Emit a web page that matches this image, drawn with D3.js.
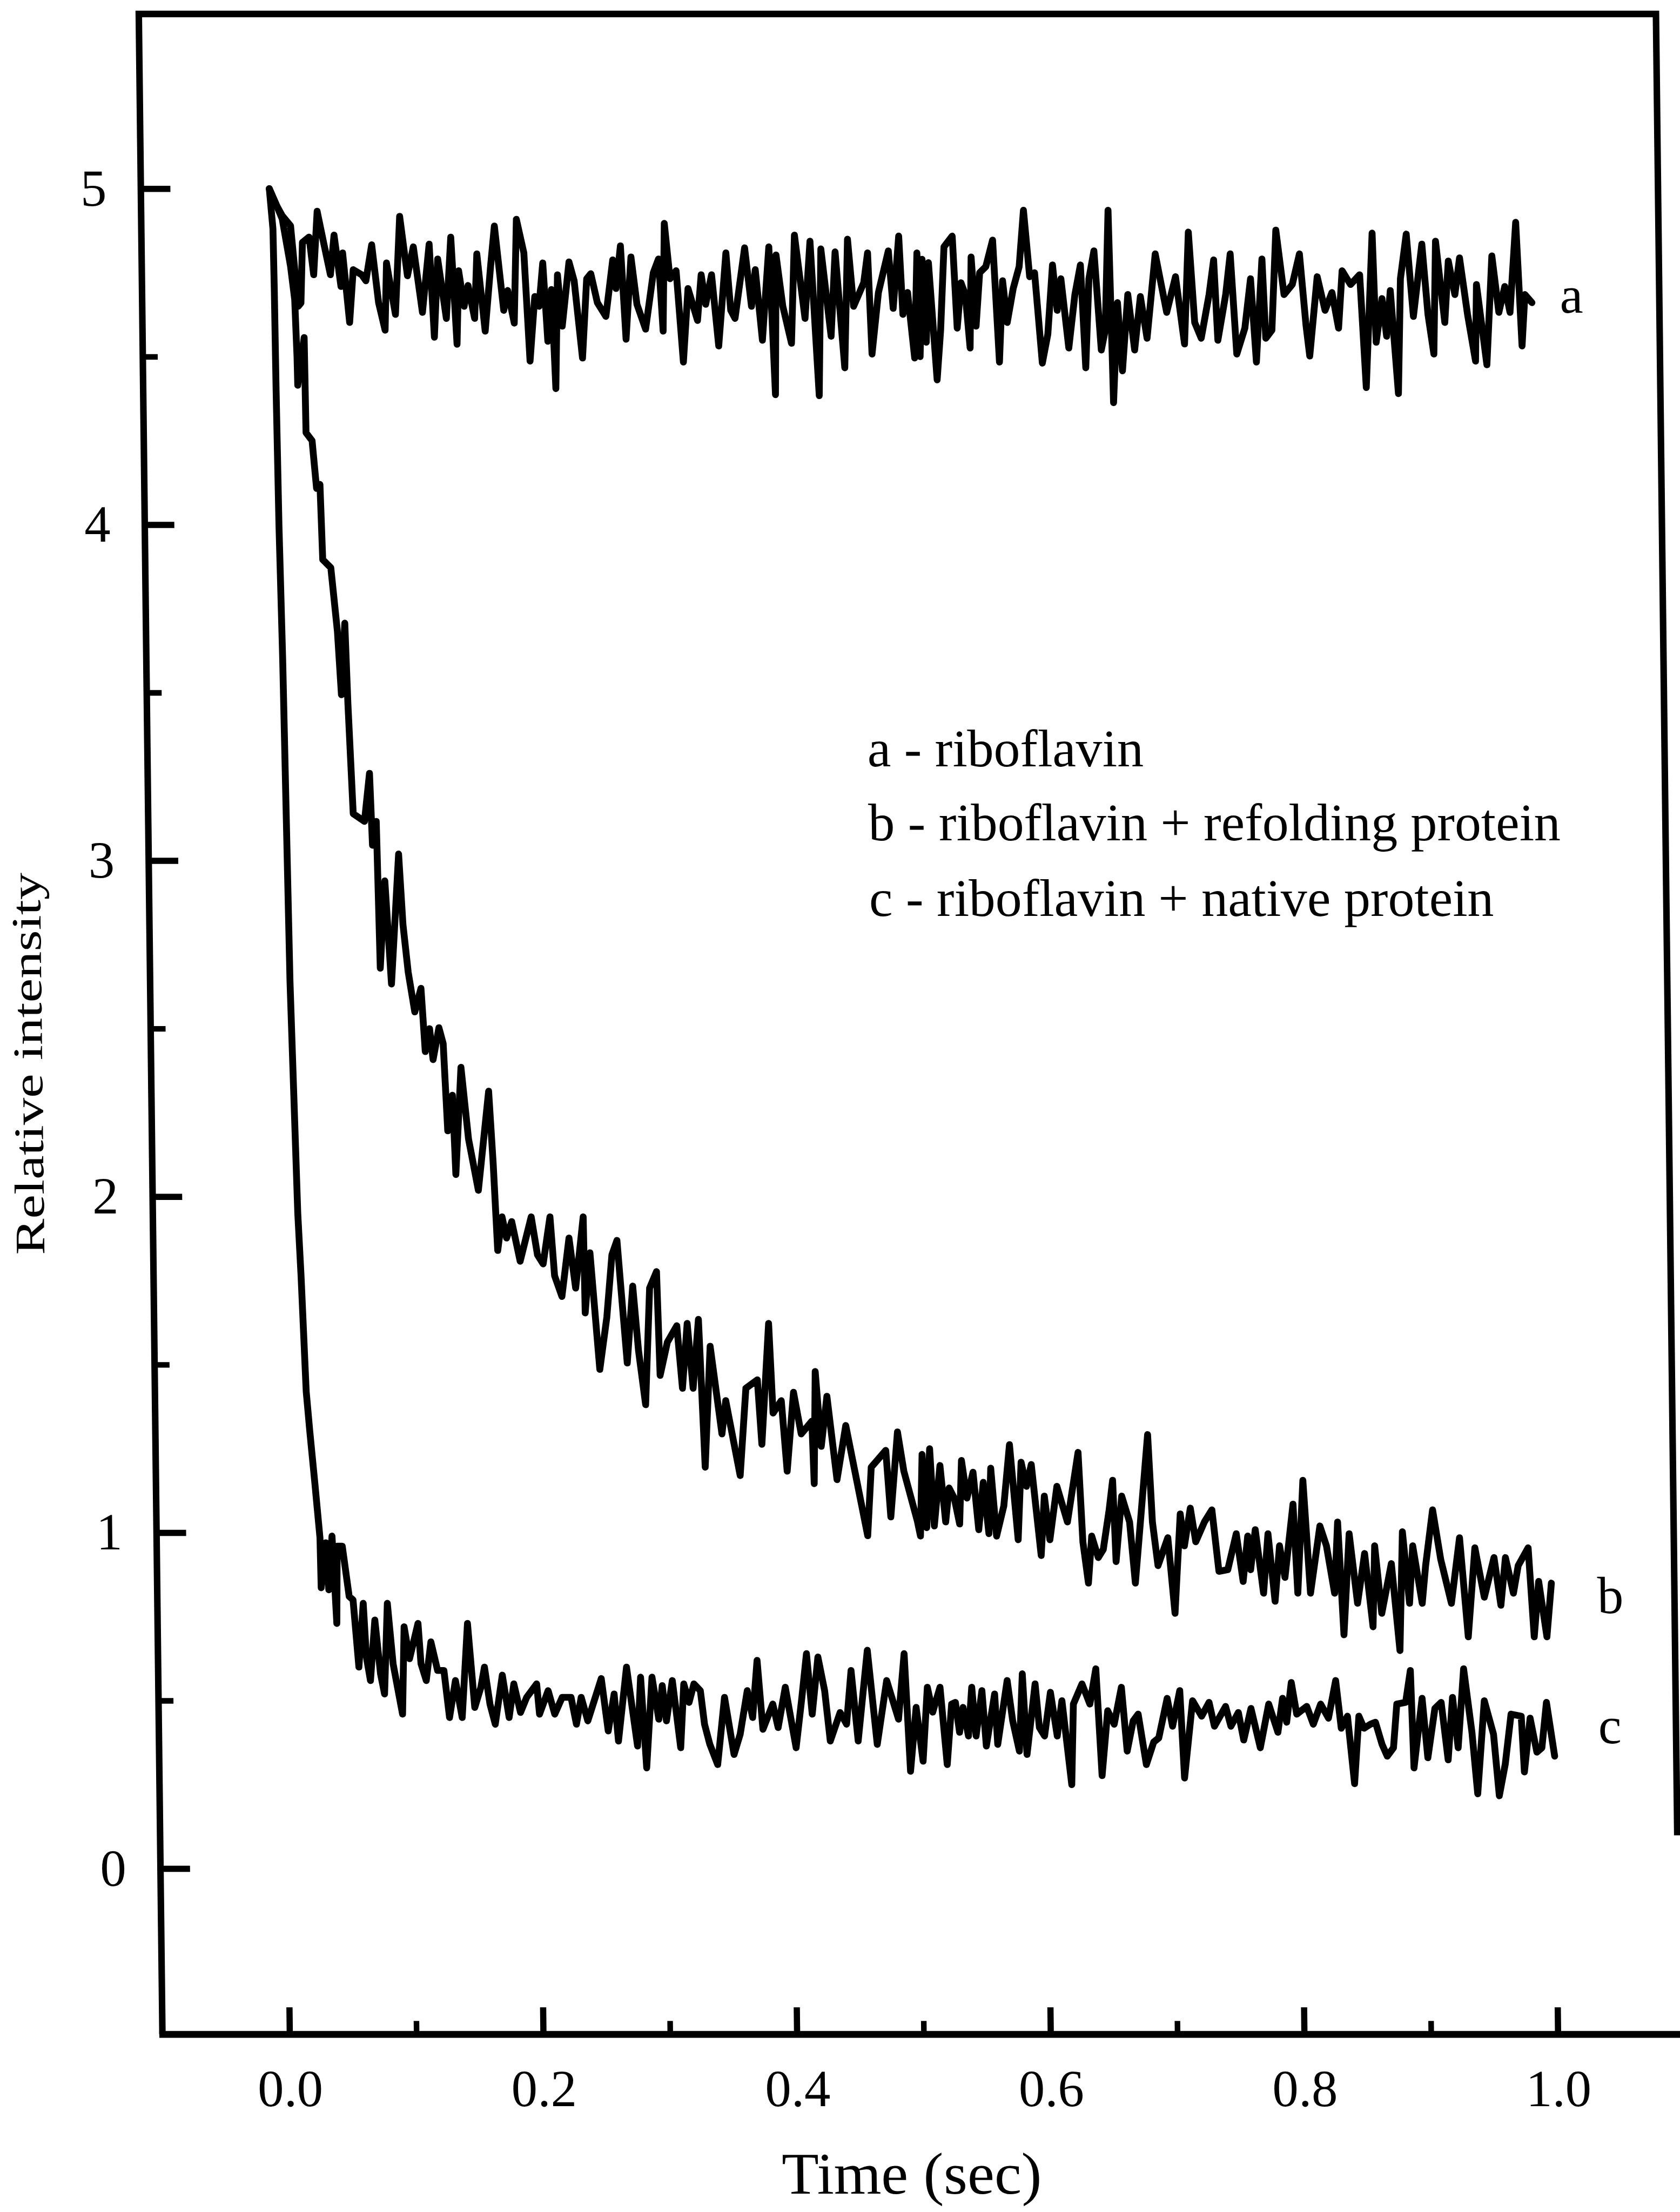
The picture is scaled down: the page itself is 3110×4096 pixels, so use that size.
<!DOCTYPE html>
<html>
<head>
<meta charset="utf-8">
<script src="https://cdn.jsdelivr.net/npm/d3@7"></script>
<style>
  html, body { margin: 0; padding: 0; background: #fff; }
  svg { display: block; }
  text { font-family: "Liberation Serif", "Times New Roman", serif; fill: #000; }
</style>
</head>
<body>
<svg id="chart" width="3110" height="4096"></svg>
<script>
// ---------------- DATA (time in s, relative intensity) ----------------
const xTickValues = [0.0, 0.2, 0.4, 0.6, 0.8, 1.0];
const xMinorTicks = [0.1, 0.3, 0.5, 0.7, 0.9];
const yTickValues = [0, 1, 2, 3, 4, 5];
const yMinorTicks = [0.5, 1.5, 2.5, 3.5, 4.5];
const xTitle = "Time (sec)";
const yTitle = "Relative intensity";
const legendLines = [
  "a - riboflavin",
  "b - riboflavin + refolding protein",
  "c - riboflavin + native protein"
];
const seriesNames = ["a", "b", "c"];

// curve a : riboflavin
const seriesA = [
[0.001,5.00],[0.0066,4.95],[0.0109,4.92],[0.0174,4.89],[0.0212,4.72],[0.0227,4.65],[0.0249,4.66],[0.0266,4.84],
[0.0319,4.856],[0.0352,4.744],[0.0385,4.933],[0.0434,4.838],[0.0484,4.744],[0.0516,4.862],[0.0566,4.709],[0.0582,4.809],
[0.0631,4.602],[0.0664,4.759],[0.073,4.744],[0.0763,4.726],[0.0812,4.833],[0.0861,4.661],[0.091,4.579],[0.0927,4.779],
[0.0993,4.626],[0.1035,4.918],[0.1091,4.741],[0.114,4.827],[0.1206,4.632],[0.1265,4.835],[0.1298,4.558],[0.1331,4.791],
[0.1394,4.614],[0.1436,4.856],[0.1476,4.537],[0.1495,4.756],[0.1535,4.65],
[0.1568,4.712],[0.1617,4.614],[0.1640,4.806],[0.1699,4.576],[0.1748,4.771],[0.1781,4.889],[0.1847,4.638],[0.1880,4.697],
[0.1929,4.60],[0.1955,4.909],[0.2011,4.809],[0.2050,4.487],[0.2093,4.679],[0.2126,4.650],[0.2159,4.779],[0.2192,4.546],
[0.2225,4.70],[0.2251,4.405],[0.2274,4.744],[0.2307,4.591],[0.2366,4.782],[0.2405,4.726],[0.2464,4.496],[0.2504,4.732],
[0.2537,4.747],[0.2586,4.661],[0.2652,4.620],[0.2711,4.788],[0.2734,4.703],[0.2773,4.83],[0.2809,4.552],[0.2855,4.797],
[0.2898,4.656],[0.2964,4.582],[0.3030,4.75],[0.3072,4.791],[0.3102,4.576],[0.3121,4.897],[0.3161,4.732],[0.3210,4.756],
[0.3259,4.484],[0.3302,4.703],[0.3374,4.608],[0.3407,4.744],[0.3440,4.656],[0.3489,4.744],[0.3539,4.532],[0.3604,4.809],
[0.3637,4.638],[0.3670,4.614],[0.3752,4.824],[0.3801,4.65],[0.3834,4.759],[0.3884,4.549],[0.3943,4.827],[0.3982,4.387],
[0.3999,4.803],[0.4048,4.65],[0.4113,4.54],[0.4146,4.862],[0.4222,4.614],[0.4268,4.844],[0.4327,4.384],[0.4353,4.821],
[0.4426,4.561],[0.4465,4.812],[0.4531,4.467],[0.4564,4.85],[0.4606,4.65],[0.4688,4.72],[0.4721,4.809],[0.4747,4.508],
[0.4803,4.691],[0.4885,4.815],[0.4918,4.644],[0.4968,4.859],[0.4994,4.626],[0.5033,4.691],[0.5083,4.496],
[0.511,4.809],[0.5126,4.50],[0.515,4.79],[0.5176,4.543],[0.520,4.78],[0.5258,4.431],[0.529,4.579],[0.5324,4.827],
[0.539,4.859],[0.5421,4.585],[0.5455,4.72],[0.5488,4.685],[0.5521,4.526],[0.5537,4.797],[0.557,4.591],[0.5603,4.75],
[0.5652,4.768],[0.5708,4.847],[0.5751,4.484],[0.5783,4.726],[0.5816,4.602],[0.5866,4.703],[0.5915,4.768],[0.5954,4.936],
[0.5997,4.738],[0.6036,4.75],[0.6089,4.481],[0.6135,4.567],[0.6178,4.773],[0.6211,4.638],[0.6243,4.732],[0.6299,4.526],
[0.6352,4.685],[0.6398,4.773],[0.6431,4.467],[0.6464,4.732],[0.6506,4.815],[0.6555,4.52],[0.6588,4.579],[0.6621,4.936],
[0.6647,4.363],[0.6687,4.661],[0.6720,4.458],[0.6769,4.685],[0.6818,4.52],[0.6868,4.679],[0.6917,4.555],[0.6989,4.806],
[0.7074,4.632],[0.7147,4.738],[0.7212,4.538],[0.7252,4.871],[0.7294,4.602],[0.7344,4.555],[0.741,4.685],[0.7449,4.788],
[0.7475,4.549],[0.7541,4.685],[0.758,4.806],[0.7623,4.508],[0.7689,4.585],[0.7738,4.732],[0.7777,4.484],[0.783,4.791],
[0.7853,4.555],[0.7902,4.579],[0.7942,4.877],[0.8001,4.685],[0.8067,4.715],[0.8126,4.806],[0.8172,4.591],[0.8198,4.502],
[0.8264,4.738],[0.8323,4.638],[0.8379,4.691],[0.8428,4.585],[0.8461,4.756],[0.8526,4.715],[0.8599,4.744],[0.8641,4.408],
[0.8701,4.868],[0.8723,4.543],[0.8773,4.673],[0.8806,4.561],[0.8839,4.697],[0.8894,4.39],[0.892,4.732],[0.897,4.865],
[0.9019,4.62],[0.9092,4.835],[0.9134,4.626],[0.9177,4.508],[0.920,4.844],[0.9266,4.602],[0.9299,4.785],[0.9348,4.685],
[0.9388,4.794],[0.9446,4.626],[0.9505,4.487],[0.9519,4.715],[0.9594,4.476],[0.9643,4.80],[0.9693,4.632],[0.9742,4.709],
[0.9781,4.632],[0.9834,4.90],[0.9873,4.532],[0.990,4.685],[0.9955,4.661]
];

// curve b : riboflavin + refolding protein
const seriesB = [
[0.001,5.00],[0.0066,4.95],[0.0109,4.91],[0.017,4.77],[0.020,4.67],[0.0213,4.50],
[0.0216,4.415],[0.0271,4.557],[0.0277,4.274],[0.0324,4.25],[0.0355,4.108],[0.0382,4.12],[0.0397,3.896],[0.046,3.872],
[0.0506,3.683],[0.0532,3.494],[0.0565,3.707],[0.0582,3.47],[0.0614,3.14],[0.0702,3.117],[0.0746,3.26],[0.0763,3.046],
[0.0795,3.117],[0.0813,2.68],[0.0857,2.94],[0.090,2.633],[0.0968,3.02],[0.0996,2.81],[0.1033,2.668],[0.1081,2.55],
[0.1132,2.62],[0.116,2.432],[0.1196,2.50],[0.1221,2.408],[0.127,2.503],[0.1302,2.456],[0.133,2.196],[0.137,2.302],
[0.139,2.066],[0.144,2.385],[0.1493,2.172],[0.1566,2.019],[0.1656,2.314],[0.1685,2.101],
[0.1713,1.84],[0.175,1.94],[0.1784,1.877],[0.1826,1.926],[0.1889,1.808],[0.198,1.94],[0.2026,1.827],[0.2070,1.80],
[0.2128,1.94],[0.2159,1.765],[0.2215,1.703],[0.2276,1.877],[0.2324,1.728],[0.2390,1.94],[0.2397,1.654],[0.2440,1.833],
[0.2507,1.486],[0.2567,1.641],[0.2613,1.827],[0.2654,1.87],[0.2682,1.722],[0.2724,1.505],[0.2774,1.734],[0.2814,1.542],
[0.2865,1.381],[0.2907,1.728],[0.2963,1.777],[0.2982,1.468],[0.3042,1.567],[0.3118,1.616],[0.3157,1.43],[0.320,1.623],
[0.3241,1.43],[0.3289,1.635],[0.3329,1.195],[0.3379,1.555],[0.3464,1.294],[0.3497,1.393],[0.3604,1.17],[0.3657,1.43],
[0.3748,1.455],[0.3778,1.263],[0.3842,1.623],[0.3869,1.356],[0.3935,1.393],[0.3975,1.183],[0.4032,1.418],[0.4089,1.294],
[0.4174,1.332],[0.4187,1.146],[0.4205,1.48],[0.4246,1.257],[0.4295,1.406],[0.4367,1.158],[0.4441,1.319],[0.4604,0.991],
[0.4638,1.195],[0.4754,1.245],[0.4788,1.047],[0.4848,1.30],[0.4895,1.183],[0.4997,1.034],
[0.502,0.99],[0.504,1.233],[0.507,1.015],[0.510,1.25],[0.513,1.02],[0.518,1.20],[0.522,1.032],[0.525,1.133],[0.529,1.103],
[0.533,1.026],[0.535,1.215],[0.539,1.103],[0.544,1.18],[0.548,1.009],[0.552,1.15],[0.556,0.997],[0.558,1.192],[0.562,0.99],
[0.568,1.08],[0.573,1.262],[0.579,0.979],[0.582,1.21],[0.586,1.138],[0.590,1.203],[0.597,0.932],[0.600,1.109],[0.604,0.979],
[0.610,1.138],[0.618,1.032],[0.627,1.239],[0.630,0.973],[0.634,0.85],[0.637,0.99],[0.642,0.926],[0.646,0.95],[0.651,1.068],
[0.654,1.156],[0.656,0.914],[0.661,1.109],[0.667,1.032],[0.671,0.85],[0.677,1.091],[0.682,1.292],[0.685,1.032],[0.689,0.902],
[0.697,0.985],[0.702,0.76],[0.707,1.056],[0.710,0.961],[0.715,1.073],[0.719,0.973],[0.726,1.032],[0.732,1.068],[0.737,0.885],
[0.744,0.89],[0.751,0.997],[0.756,0.855],[0.760,0.99],[0.762,0.89],[0.766,1.009],[0.772,0.82],[0.776,0.997],[0.781,0.796],
[0.785,0.961],[0.789,0.867],[0.796,1.085],[0.799,0.82],[0.804,1.156],[0.809,0.82],[0.817,1.02],[0.822,0.961],[0.828,0.82],
[0.831,1.032],[0.835,0.696],[0.840,0.997],[0.846,0.79],[0.852,0.938],[0.858,0.72],[0.860,0.961],[0.865,0.76],[0.873,0.908],
[0.879,0.649],[0.882,1.003],[0.887,0.79],[0.890,0.961],[0.897,0.79],[0.900,0.902],[0.906,1.068],[0.912,0.92],[0.920,0.79],
[0.927,0.985],[0.933,0.69],[0.939,0.955],[0.946,0.808],[0.954,0.926],[0.959,0.784],[0.963,0.926],[0.969,0.82],[0.973,0.902],
[0.981,0.955],[0.985,0.69],[0.989,0.855],[0.995,0.69],[0.999,0.85]
];

// curve c : riboflavin + native protein
const seriesC = [
[0.001,5.00],[0.0035,4.88],[0.0040,4.70],[0.0045,4.40],[0.0055,4.0],[0.0072,3.6],[0.0100,2.64],[0.0140,1.95],[0.0160,1.765],
[0.0190,1.42],[0.0215,1.30],[0.0250,1.146],[0.0285,0.985],
[0.029,0.836],[0.033,0.97],[0.035,0.83],[0.038,0.99],[0.041,0.73],[0.042,0.96],[0.046,0.96],[0.051,0.81],[0.054,0.80],
[0.058,0.60],[0.062,0.79],[0.064,0.63],[0.067,0.56],[0.071,0.74],[0.075,0.58],[0.078,0.52],[0.081,0.79],[0.085,0.61],
[0.092,0.46],[0.094,0.72],[0.098,0.625],[0.105,0.73],[0.107,0.61],[0.111,0.56],[0.115,0.675],[0.120,0.59],[0.125,0.59],
[0.129,0.45],[0.134,0.56],[0.139,0.45],[0.144,0.73],[0.149,0.48],[0.154,0.54],[0.157,0.60],[0.161,0.49],[0.165,0.43],
[0.171,0.576],[0.176,0.45],[0.180,0.55],[0.185,0.465],[0.190,0.51],[0.198,0.55],[0.200,0.46],[0.207,0.53],[0.212,0.46],
[0.218,0.51],[0.225,0.51],[0.229,0.43],[0.233,0.51],[0.238,0.44],[0.249,0.566],[0.254,0.41],[0.259,0.52],[0.262,0.38],
[0.269,0.60],[0.277,0.365],[0.280,0.57],[0.284,0.30],[0.289,0.57],[0.294,0.445],[0.297,0.545],[0.300,0.44],[0.305,0.56],
[0.311,0.36],[0.314,0.55],[0.318,0.495],[0.322,0.55],[0.327,0.53],[0.330,0.43],[0.334,0.37],[0.340,0.31],[0.346,0.51],
[0.353,0.34],[0.358,0.40],[0.364,0.53],[0.368,0.45],[0.372,0.62],[0.376,0.415],[0.384,0.49],[0.388,0.42],[0.394,0.54],
[0.402,0.36],[0.407,0.51],[0.411,0.64],[0.415,0.46],[0.420,0.63],[0.425,0.53],[0.429,0.38],[0.437,0.465],[0.442,0.43],
[0.446,0.59],[0.451,0.38],[0.459,0.65],[0.466,0.37],[0.474,0.56],[0.483,0.445],[0.488,0.64],[0.492,0.29],[0.497,0.48],
[0.502,0.32],[0.506,0.54],[0.510,0.466],[0.516,0.54],[0.521,0.31],[0.525,0.49],[0.528,0.495],[0.531,0.406],[0.534,0.48],
[0.538,0.395],[0.541,0.54],[0.544,0.395],[0.549,0.53],[0.552,0.365],[0.559,0.52],[0.561,0.37],[0.569,0.56],[0.573,0.44],
[0.578,0.35],[0.581,0.58],[0.584,0.34],[0.591,0.55],[0.594,0.42],[0.598,0.395],[0.603,0.525],[0.608,0.395],[0.612,0.50],
[0.619,0.25],[0.621,0.49],[0.628,0.55],[0.634,0.49],[0.639,0.595],[0.643,0.277],[0.648,0.47],[0.653,0.43],[0.659,0.54],
[0.663,0.35],[0.668,0.44],[0.672,0.46],[0.678,0.31],[0.684,0.377],[0.688,0.389],[0.695,0.507],[0.699,0.424],[0.705,0.53],
[0.708,0.27],[0.715,0.50],[0.722,0.454],[0.728,0.495],[0.732,0.424],[0.741,0.483],[0.745,0.424],[0.751,0.465],[0.755,0.383],
[0.761,0.477],[0.768,0.36],[0.775,0.49],[0.782,0.406],[0.786,0.507],[0.789,0.436],[0.793,0.554],[0.797,0.46],[0.805,0.483],
[0.810,0.43],[0.816,0.49],[0.822,0.448],[0.828,0.56],[0.832,0.418],[0.837,0.454],[0.842,0.253],[0.846,0.454],[0.850,0.418],
[0.855,0.43],[0.859,0.436],[0.864,0.37],[0.868,0.335],[0.873,0.36],[0.876,0.49],[0.883,0.495],[0.887,0.59],[0.889,0.30],
[0.896,0.507],[0.900,0.33],[0.906,0.477],[0.911,0.495],[0.916,0.324],[0.920,0.51],[0.924,0.36],[0.929,0.595],[0.935,0.406],
[0.939,0.223],[0.945,0.50],[0.952,0.40],[0.956,0.217],[0.961,0.312],[0.966,0.46],[0.974,0.454],[0.976,0.288],[0.981,0.448],
[0.986,0.347],[0.990,0.36],[0.994,0.495],[1.000,0.335]
];

// ---------------- LAYOUT (reference pixel units, scaled to window) ----------------
const S = 0.576;
const L = { left: 522, right: 5398, top: 45, bottom: 6540 };
const SKEW_DEG = 0.67;     // the scanned figure leans slightly
const FS = 168;            // tick / legend font size (reference px)

const x = d3.scaleLinear().domain([-0.1003, 1.0952]).range([L.left, 5395]);
const y = d3.scaleLinear().domain([-0.493, 5.52]).range([L.bottom, L.top]);

const svg = d3.select("#chart");
svg.append("rect").attr("width", 3110).attr("height", 4096).attr("fill", "#fff");
const root = svg.append("g").attr("transform", `scale(${S})`);
const g = root.append("g")
  .attr("transform", `translate(0,${L.bottom}) skewX(${SKEW_DEG}) translate(0,${-L.bottom})`);

// frame: left, top, right (runs off the scanned page near the bottom), bottom
g.append("path")
  .attr("d", `M${L.left},${L.bottom}V${L.top}H${L.right}V5900`)
  .attr("fill", "none").attr("stroke", "#000").attr("stroke-width", 21)
  .attr("stroke-linejoin", "miter").attr("stroke-linecap", "butt");
g.append("path")
  .attr("d", `M${L.left - 10},${L.bottom}H5600`)
  .attr("fill", "none").attr("stroke", "#000").attr("stroke-width", 22);

// y axis
const yAxis = g.append("g").attr("transform", `translate(${L.left},0)`)
  .call(d3.axisLeft(y).tickValues(yTickValues).tickFormat(d3.format("d"))
        .tickSize(-95).tickPadding(110));
yAxis.select(".domain").remove();
yAxis.selectAll(".tick line").attr("stroke", "#000").attr("stroke-width", 20);
yAxis.selectAll(".tick text").attr("font-size", FS).attr("font-family", "Liberation Serif").attr("fill", "#000");

const yMinor = g.append("g").attr("transform", `translate(${L.left},0)`)
  .call(d3.axisLeft(y).tickValues(yMinorTicks).tickFormat("").tickSize(-48));
yMinor.select(".domain").remove();
yMinor.selectAll(".tick line").attr("stroke", "#000").attr("stroke-width", 18);

// x axis
const xAxis = g.append("g").attr("transform", `translate(0,${L.bottom})`)
  .call(d3.axisBottom(x).tickValues(xTickValues).tickFormat(d3.format(".1f"))
        .tickSize(-87).tickPadding(111));
xAxis.select(".domain").remove();
xAxis.selectAll(".tick line").attr("stroke", "#000").attr("stroke-width", 20);
xAxis.selectAll(".tick text").attr("font-size", FS).attr("font-family", "Liberation Serif").attr("fill", "#000");

const xMinor = g.append("g").attr("transform", `translate(0,${L.bottom})`)
  .call(d3.axisBottom(x).tickValues(xMinorTicks).tickFormat("").tickSize(-43));
xMinor.select(".domain").remove();
xMinor.selectAll(".tick line").attr("stroke", "#000").attr("stroke-width", 18);

// curves
const line = d3.line().x(d => x(d[0])).y(d => y(d[1]));
[seriesA, seriesB, seriesC].forEach(s => {
  g.append("path").datum(s).attr("d", line)
    .attr("fill", "none").attr("stroke", "#000").attr("stroke-width", 22)
    .attr("stroke-linejoin", "round").attr("stroke-linecap", "round");
});

// curve end labels
const endLabels = [
  { name: seriesNames[0], x: 5078, y: 1006 },
  { name: seriesNames[1], x: 5150, y: 5185 },
  { name: seriesNames[2], x: 5148, y: 5605 }
];
g.selectAll("text.endlab").data(endLabels).enter().append("text")
  .attr("class", "endlab").attr("x", d => d.x).attr("y", d => d.y)
  .attr("font-size", FS).text(d => d.name);

// legend text
g.selectAll("text.leg").data(legendLines).enter().append("text")
  .attr("class", "leg").attr("x", 2836).attr("y", (d, i) => [2464, 2701, 2944][i])
  .attr("font-size", 170).text(d => d);

// axis titles
g.append("text").attr("transform", "translate(172,3420) rotate(-90)")
  .attr("text-anchor", "middle").attr("font-size", 135)
  .attr("textLength", 1229).attr("lengthAdjust", "spacingAndGlyphs")
  .text(yTitle);

g.append("text").attr("x", 2925).attr("y", 7052)
  .attr("text-anchor", "middle").attr("font-size", 190)
  .attr("textLength", 835).attr("lengthAdjust", "spacingAndGlyphs")
  .text(xTitle);
</script>
</body>
</html>
